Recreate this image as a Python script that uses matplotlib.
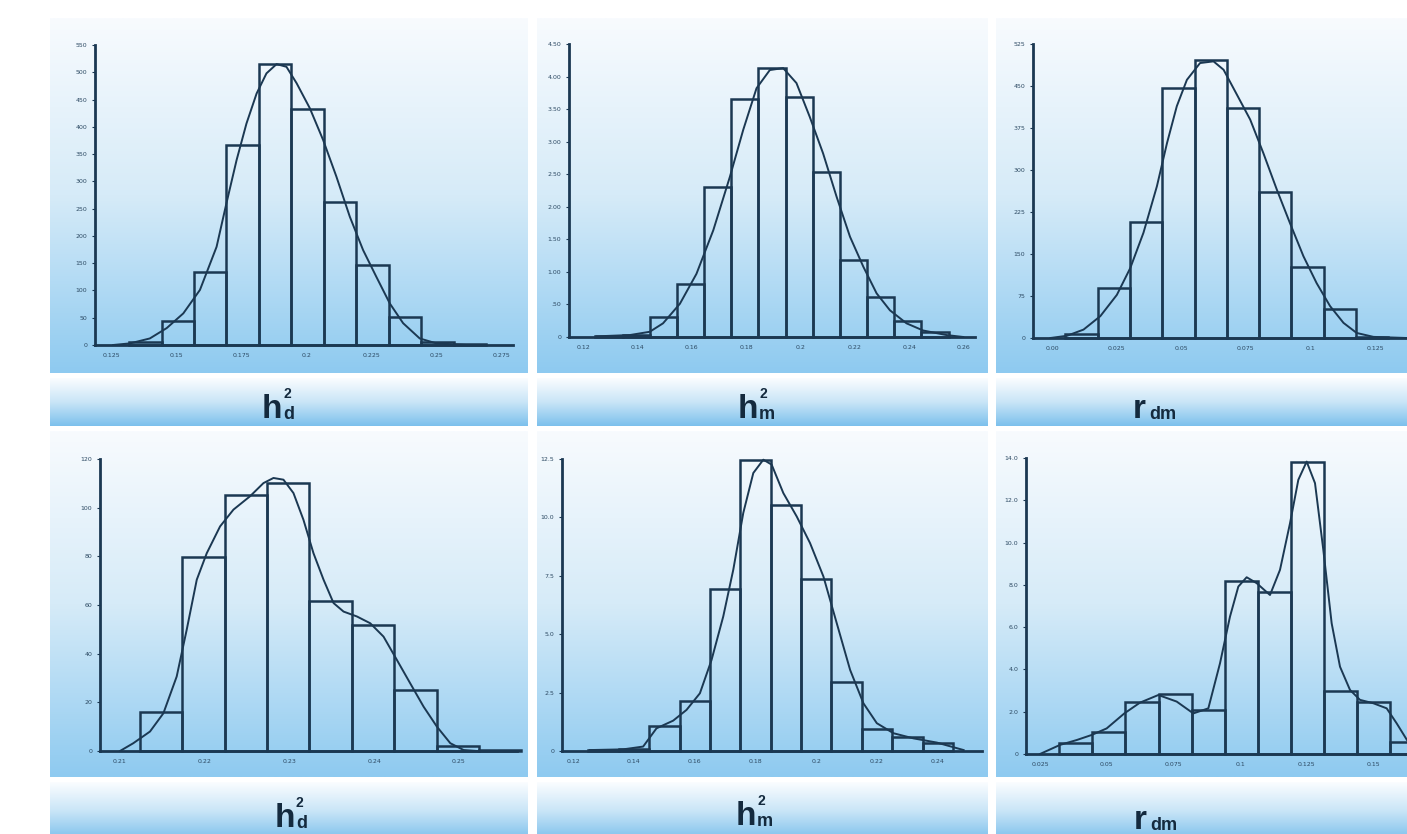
import matplotlib.pyplot as plt
import numpy as np
from matplotlib.colors import LinearSegmentedColormap

W, H = 1407, 834
INK = "#1b3852"

# ---- top row ----
# h2_d (top left)
p1_edge0, p1_width = 0.1317, 0.0125
p1_counts = [6, 44, 133, 367, 515, 433, 263, 147, 51, 6, 2]
p1_curve_x = [0.1256, 0.1321, 0.1397, 0.1462, 0.1526, 0.1590, 0.1654, 0.1692, 0.1731,
              0.1769, 0.1808, 0.1846, 0.1885, 0.1923, 0.1962, 0.2013, 0.2064, 0.2115,
              0.2167, 0.2218, 0.2269, 0.2321, 0.2372, 0.2436, 0.2500, 0.2615]
p1_curve_y = [0, 3, 12, 31, 58, 101, 180, 260, 339, 406, 461, 498, 515, 510, 480, 434,
              376, 309, 235, 174, 125, 76, 40, 12, 3, 0]
p1_xticks = [0.125, 0.15, 0.175, 0.2, 0.225, 0.25, 0.275]
p1_xlabels = ["0.125", "0.15", "0.175", "0.2", "0.225", "0.25", "0.275"]
p1_yticks = [0, 50, 100, 150, 200, 250, 300, 350, 400, 450, 500, 550]
p1_ylabels = ["0", "50", "100", "150", "200", "250", "300", "350", "400", "450", "500", "550"]

# h2_m (top middle)
p2_edge0, p2_width = 0.1245, 0.01
p2_counts = [0.02, 0.03, 0.30, 0.81, 2.31, 3.66, 4.13, 3.68, 2.53, 1.19, 0.62, 0.25, 0.08]
p2_curve_x = [0.1249, 0.1372, 0.1445, 0.1494, 0.1556, 0.1617, 0.1679, 0.1740, 0.1789,
              0.1838, 0.1887, 0.1936, 0.1985, 0.2034, 0.2083, 0.2133, 0.2182, 0.2231,
              0.2280, 0.2329, 0.2390, 0.2451, 0.2537, 0.2599]
p2_curve_y = [0.01, 0.03, 0.08, 0.21, 0.51, 0.97, 1.64, 2.46, 3.18, 3.82, 4.10, 4.13,
              3.90, 3.38, 2.82, 2.15, 1.54, 1.08, 0.67, 0.41, 0.21, 0.10, 0.03, 0]
p2_xticks = [0.12, 0.14, 0.16, 0.18, 0.2, 0.22, 0.24, 0.26]
p2_xlabels = ["0.12", "0.14", "0.16", "0.18", "0.2", "0.22", "0.24", "0.26"]
p2_yticks = [0, 0.5, 1.0, 1.5, 2.0, 2.5, 3.0, 3.5, 4.0, 4.5]
p2_ylabels = ["0", ".50", "1.00", "1.50", "2.00", "2.50", "3.00", "3.50", "4.00", "4.50"]

# r_dm (top right)
p3_edge0, p3_width = 0.00515, 0.0125
p3_counts = [8, 89, 208, 446, 496, 411, 261, 126, 52, 2]
p3_curve_x = [-0.0006, 0.0058, 0.0122, 0.0187, 0.0251, 0.0303, 0.0354, 0.0406, 0.0445,
              0.0483, 0.0522, 0.0573, 0.0625, 0.0664, 0.0715, 0.0767, 0.0818, 0.0870,
              0.0921, 0.0973, 0.1024, 0.1076, 0.1128, 0.1179, 0.1244, 0.1372]
p3_curve_y = [0, 4, 15, 39, 77, 125, 188, 271, 348, 414, 461, 491, 494, 479, 435, 390,
              330, 265, 205, 146, 98, 57, 27, 9, 2, 0]
p3_xticks = [0.0, 0.025, 0.05, 0.075, 0.1, 0.125]
p3_xlabels = ["0.00", "0.025", "0.05", "0.075", "0.1", "0.125"]
p3_yticks = [0, 75, 150, 225, 300, 375, 450, 525]
p3_ylabels = ["0", "75", "150", "225", "300", "375", "450", "525"]

# ---- bottom row ----
# h2_d (bottom left)
p4_edge0, p4_width = 0.21236, 0.005
p4_counts = [16.2, 79.6, 105.3, 110.1, 61.7, 51.9, 25.1, 2.1, 0.5]
p4_curve_x = [0.21, 0.21157, 0.21354, 0.21512, 0.21669, 0.21787, 0.21906, 0.22024,
              0.22181, 0.22339, 0.22535, 0.22693, 0.22811, 0.22929, 0.23047, 0.23165,
              0.23283, 0.23402, 0.23520, 0.23638, 0.23795, 0.23953, 0.24110, 0.24268,
              0.24425, 0.24583, 0.24740, 0.24898, 0.25055, 0.25213]
p4_curve_y = [0, 3.2, 8.0, 15.5, 30.6, 49.8, 70.4, 81.3, 92.3, 99.2, 104.7, 110.1, 112.2,
              111.5, 106, 95, 81.3, 70.4, 60.8, 57.3, 55.3, 52.5, 47, 37.4, 27.8, 18.2,
              10, 3.2, 0.4, 0]
p4_xticks = [0.21, 0.22, 0.23, 0.24, 0.25]
p4_xlabels = ["0.21", "0.22", "0.23", "0.24", "0.25"]
p4_yticks = [0, 20, 40, 60, 80, 100, 120]
p4_ylabels = ["0", "20", "40", "60", "80", "100", "120"]

# h2_m (bottom middle)
p5_edge0, p5_width = 0.12505, 0.01
p5_counts = [0.05, 0.09, 1.07, 2.16, 6.93, 12.44, 10.54, 7.36, 2.94, 0.93, 0.59, 0.33]
p5_curve_x = [0.12549, 0.13648, 0.14308, 0.14747, 0.15297, 0.15736, 0.16176, 0.16560,
              0.16945, 0.17275, 0.17604, 0.17934, 0.18264, 0.18538, 0.18923, 0.19363,
              0.19802, 0.20242, 0.20681, 0.21121, 0.21560, 0.22000, 0.22549, 0.23209,
              0.23978, 0.24857]
p5_curve_y = [0.04, 0.07, 0.19, 0.97, 1.3, 1.76, 2.47, 3.9, 5.76, 7.76, 10.19, 11.9,
              12.47, 12.26, 11.04, 10.04, 8.9, 7.47, 5.47, 3.47, 2.04, 1.19, 0.76, 0.54,
              0.36, 0.04]
p5_xticks = [0.12, 0.14, 0.16, 0.18, 0.2, 0.22, 0.24]
p5_xlabels = ["0.12", "0.14", "0.16", "0.18", "0.2", "0.22", "0.24"]
p5_yticks = [0, 2.5, 5.0, 7.5, 10.0, 12.5]
p5_ylabels = ["0", "2.5", "5.0", "7.5", "10.0", "12.5"]

# r_dm (bottom right)
p6_edge0, p6_width = 0.03225, 0.0124
p6_counts = [0.5, 1.06, 2.48, 2.82, 2.08, 8.2, 7.65, 13.83, 3.0, 2.48, 0.55]
p6_curve_x = [0.025, 0.0325, 0.03875, 0.044375, 0.05, 0.056625, 0.0625, 0.069375,
              0.07625, 0.0825, 0.088125, 0.0925, 0.09625, 0.099375, 0.1025, 0.10625,
              0.11125, 0.115, 0.11875, 0.121875, 0.125, 0.128125, 0.13125, 0.134375,
              0.1375, 0.14125, 0.145, 0.15, 0.155, 0.15875, 0.162625]
p6_curve_y = [0, 0.43, 0.66, 0.9, 1.21, 1.92, 2.43, 2.79, 2.48, 1.92, 2.16, 4.29, 6.5,
              7.92, 8.36, 8.08, 7.52, 8.71, 10.91, 12.97, 13.83, 12.81, 9.65, 6.18, 4.13,
              3.03, 2.56, 2.4, 2.16, 1.45, 0.66]
p6_xticks = [0.025, 0.05, 0.075, 0.1, 0.125, 0.15]
p6_xlabels = ["0.025", "0.05", "0.075", "0.1", "0.125", "0.15"]
p6_yticks = [0, 2, 4, 6, 8, 10, 12, 14]
p6_ylabels = ["0", "2.0", "4.0", "6.0", "8.0", "10.0", "12.0", "14.0"]


fig = plt.figure(figsize=(W / 100, H / 100), dpi=100)

# background: gradient boxes drawn in pixel coordinates
bg = fig.add_axes([0, 0, 1, 1])
bg.axis("off")

panel_cmap = LinearSegmentedColormap.from_list("panel", ["#f8fbfe", "#d6ebf8", "#8ecaf0"])
label_cmap = LinearSegmentedColormap.from_list("label", ["#fbfdff", "#c9e5f7", "#7cc0ec"])
grad = np.linspace(0, 1, 256)[:, None]

cols = [(50, 528), (537, 988), (996, 1420)]
panel_rows = [(18, 373), (431, 777)]
label_rows = [(378, 426), (782, 840)]
for (x0, x1) in cols:
    for (y0, y1) in panel_rows:
        bg.imshow(grad, cmap=panel_cmap, aspect="auto", extent=(x0, x1, y1, y0))
    for (y0, y1) in label_rows:
        bg.imshow(grad, cmap=label_cmap, aspect="auto", extent=(x0, x1, y1, y0))
bg.set_xlim(0, W)
bg.set_ylim(H, 0)


def draw_panel(rect, xlim, edge0, width, counts, cx, cy, xticks, xlabels, yticks, ylabels):
    """rect = (left, top, right, bottom) in pixels"""
    left, top, right, bottom = rect
    ax = fig.add_axes([left / W, 1 - bottom / H, (right - left) / W, (bottom - top) / H])
    ax.patch.set_alpha(0)
    lefts = edge0 + width * np.arange(len(counts))
    ax.bar(lefts, counts, width=width, align="edge", fill=False,
           edgecolor=INK, linewidth=1.8, clip_on=False)
    ax.plot(cx, cy, color=INK, linewidth=1.4, clip_on=False)
    ax.set_xlim(*xlim)
    ax.set_ylim(yticks[0], yticks[-1])
    ax.set_xticks(xticks, xlabels)
    ax.set_yticks(yticks, ylabels)
    for s in ["top", "right"]:
        ax.spines[s].set_visible(False)
    for s in ["left", "bottom"]:
        ax.spines[s].set_color(INK)
        ax.spines[s].set_linewidth(2)
    ax.tick_params(axis="x", length=0, pad=6, labelsize=4.5, labelcolor="#2d4a63")
    ax.tick_params(axis="y", length=2.5, width=0.8, color=INK, pad=3,
                   labelsize=4.5, labelcolor="#2d4a63")
    return ax


draw_panel((95, 45, 513, 345), (0.1186, 0.2795), p1_edge0, p1_width, p1_counts,
           p1_curve_x, p1_curve_y, p1_xticks, p1_xlabels, p1_yticks, p1_ylabels)
draw_panel((569, 44, 975, 337), (0.1148, 0.2642), p2_edge0, p2_width, p2_counts,
           p2_curve_x, p2_curve_y, p2_xticks, p2_xlabels, p2_yticks, p2_ylabels)
draw_panel((1033, 44, 1451, 338), (-0.00735, 0.1544), p3_edge0, p3_width, p3_counts,
           p3_curve_x, p3_curve_y, p3_xticks, p3_xlabels, p3_yticks, p3_ylabels)
draw_panel((100, 459, 517, 751), (0.20764, 0.25685), p4_edge0, p4_width, p4_counts,
           p4_curve_x, p4_curve_y, p4_xticks, p4_xlabels, p4_yticks, p4_ylabels)
draw_panel((562, 459, 982, 751), (0.11637, 0.25462), p5_edge0, p5_width, p5_counts,
           p5_curve_x, p5_curve_y, p5_xticks, p5_xlabels, p5_yticks, p5_ylabels)
draw_panel((1026, 458, 1444, 754), (0.01975, 0.1765), p6_edge0, p6_width, p6_counts,
           p6_curve_x, p6_curve_y, p6_xticks, p6_xlabels, p6_yticks, p6_ylabels)

# panel labels (big letter + superscript + subscript), pixel positions
FAM = ["Liberation Sans", "DejaVu Sans"]
LBL = "#142a3e"


def label(x, base, big, sup, sub):
    bg.text(x, base, big, fontsize=24, fontweight="bold", family=FAM, color=LBL,
            ha="left", va="baseline")
    xs = x + (21 if big == "h" else 16)
    if sup:
        bg.text(xs, base - 20, sup, fontsize=10, fontweight="bold", family=FAM,
                color=LBL, ha="left", va="baseline")
    bg.text(xs, base + 1, sub, fontsize=13, fontweight="bold", family=FAM,
            color=LBL, ha="left", va="baseline")


label(262, 418, "h", "2", "d")
label(738, 418, "h", "2", "m")
label(1133, 418, "r", "", "dm")
label(275, 827, "h", "2", "d")
label(736, 825, "h", "2", "m")
label(1134, 829, "r", "", "dm")

fig.savefig("out.png", dpi=100)
